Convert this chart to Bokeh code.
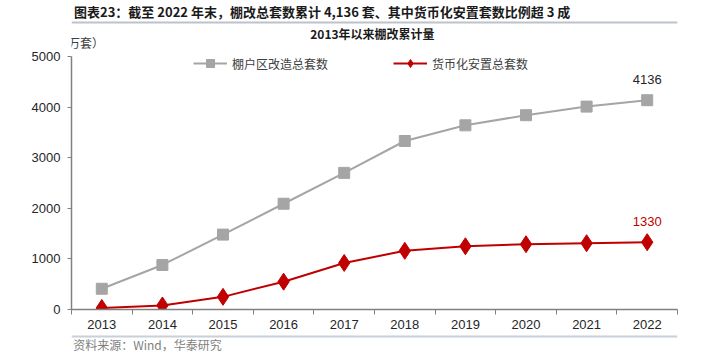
from bokeh.plotting import figure
from bokeh.layouts import column
from bokeh.models import (Range1d, FixedTicker, Label, Span, Legend, LegendItem,
                          ColumnDataSource)
from bokeh.core.properties import value
from bokeh.embed import file_html
from bokeh.resources import INLINE

# ---- data ----
years = [2013, 2014, 2015, 2016, 2017, 2018, 2019, 2020, 2021, 2022]
year_labels = [str(y) for y in years]
total_units = [410, 880, 1480, 2090, 2700, 3330, 3640, 3840, 4010, 4136]
monetized_units = [30, 80, 250, 550, 920, 1160, 1250, 1290, 1310, 1330]
y_ticks = [0, 1000, 2000, 3000, 4000, 5000]
series_names = ["棚户区改造总套数", "货币化安置总套数"]

title_text = "图表23：截至 2022 年末，棚改总套数累计 4,136 套、其中货币化安置套数比例超 3 成"
chart_title = "2013年以来棚改累计量"
unit_text = "（万套）"
source_text = "资料来源：Wind，华泰研究"

W = 719
HEAD_H = 50          # header strip height (px)
FOOT_H = 21          # footer strip height (px)
MAIN_H = 352 - HEAD_H - FOOT_H

CJK = "Noto Sans CJK SC"
LAT = "Liberation Sans"
GRAY = "#A5A5A5"
RED = "#C00000"
AXIS = "#808080"

# ---------------- header strip ----------------
head = figure(width=W, height=HEAD_H, output_backend="svg", toolbar_location=None,
              x_range=Range1d(0, W), y_range=Range1d(HEAD_H, 0),
              x_axis_location=None, y_axis_location=None,
              min_border=0, min_border_left=0, min_border_right=0,
              min_border_top=0, min_border_bottom=0)
head.outline_line_color = None
head.grid.grid_line_color = None
head.add_layout(Label(x=3, y=11, text=title_text, text_font=CJK,
                      text_font_size="13px", text_font_style="bold", text_color="#1a1a1a",
                      text_align="left", text_baseline="middle"))
head.add_layout(Span(location=22, dimension="width", line_color="#BCC3CB", line_width=2))
head.add_layout(Label(x=357, y=33, text=chart_title, text_font=CJK,
                      text_font_size="12px", text_font_style="bold", text_color="#1a1a1a",
                      text_align="center", text_baseline="middle"))
head.text(x=[10], y=[42], text=[unit_text], text_font=value(CJK),
          text_font_size="12px", text_color="#404040",
          text_align="center", text_baseline="middle")

# ---------------- main chart ----------------
FX0, FX1 = 71, 677          # frame left/right in canvas px
FY_TOP = HEAD_H             # frame top (canvas px)
Y5000, Y0 = 56, 309         # canvas px of 5000 and 0
XMIN, XMAX = years[0] - 0.5, years[-1] + 0.5
per_px = 5000 / (Y0 - Y5000)
YTOP = (Y0 - FY_TOP) * per_px

p = figure(width=W, height=MAIN_H, output_backend="svg", toolbar_location=None,
           x_range=Range1d(XMIN, XMAX), y_range=Range1d(0, YTOP),
           min_border_left=FX0, min_border_right=W - FX1,
           min_border_top=0, min_border_bottom=HEAD_H + MAIN_H - Y0)
p.outline_line_color = None
p.xgrid.grid_line_color = None
p.ygrid.grid_line_color = None

xa = p.xaxis[0]
xa.ticker = FixedTicker(ticks=years, minor_ticks=[y - 0.5 for y in years] + [years[-1] + 0.5])
xa.major_label_overrides = {y: l for y, l in zip(years, year_labels)}
xa.major_tick_line_color = None
xa.major_tick_out = 0
xa.major_tick_in = 0
xa.minor_tick_out = 5
xa.minor_tick_in = 0
xa.minor_tick_line_color = AXIS
xa.axis_line_color = AXIS
xa.axis_line_width = 1.5
xa.major_label_text_font = LAT
xa.major_label_text_font_size = "13px"
xa.major_label_text_color = "#262626"
xa.major_label_standoff = 5

ya = p.yaxis[0]
ya.ticker = FixedTicker(ticks=y_ticks, minor_ticks=[])
ya.bounds = (y_ticks[0], y_ticks[-1])
ya.major_tick_out = 4
ya.major_tick_in = 0
ya.major_tick_line_color = AXIS
ya.axis_line_color = AXIS
ya.axis_line_width = 1.5
ya.major_label_text_font = LAT
ya.major_label_text_font_size = "13px"
ya.major_label_text_color = "#262626"
ya.major_label_standoff = 7

src = ColumnDataSource(dict(x=years, total=total_units, money=monetized_units))

l1 = p.line("x", "total", source=src, line_color=GRAY, line_width=2)
s1 = p.scatter("x", "total", source=src, marker="square", size=11,
               fill_color=GRAY, line_color=GRAY)
l2 = p.line("x", "money", source=src, line_color=RED, line_width=2)
s2 = p.scatter("x", "money", source=src, marker="diamond", size=17,
               fill_color=RED, line_color=RED)

p.text(x=[years[-1]], y=[total_units[-1]], text=[str(total_units[-1])],
       text_font=value(LAT), text_font_size="13px", text_color="#262626",
       text_align="center", text_baseline="middle", y_offset=-21)
p.text(x=[years[-1]], y=[monetized_units[-1]], text=[str(monetized_units[-1])],
       text_font=value(LAT), text_font_size="13px", text_color=RED,
       text_align="center", text_baseline="middle", y_offset=-21)

legend = Legend(items=[LegendItem(label=series_names[0], renderers=[l1, s1]),
                       LegendItem(label=series_names[1], renderers=[l2, s2])],
                orientation="horizontal", location=(193 - FX0, Y0 - 73),
                glyph_width=34, glyph_height=20, label_height=20,
                label_standoff=5, spacing=65, padding=0, margin=0,
                border_line_color=None, background_fill_alpha=0,
                label_text_font=CJK, label_text_font_size="12px",
                label_text_color="#404040")
p.add_layout(legend, "center")

# ---------------- footer strip ----------------
foot = figure(width=W, height=FOOT_H, output_backend="svg", toolbar_location=None,
              x_range=Range1d(0, W), y_range=Range1d(FOOT_H, 0),
              x_axis_location=None, y_axis_location=None,
              min_border=0, min_border_left=0, min_border_right=0,
              min_border_top=0, min_border_bottom=0)
foot.outline_line_color = None
foot.grid.grid_line_color = None
foot.add_layout(Span(location=5, dimension="width", line_color="#C8D0D8", line_width=2))
foot.add_layout(Label(x=2, y=13, text=source_text, text_font=CJK,
                      text_font_size="12px", text_color="#7f7f7f",
                      text_align="left", text_baseline="middle"))

layout = column(head, p, foot, spacing=0)
open("out.html", "w").write(file_html(layout, INLINE))
